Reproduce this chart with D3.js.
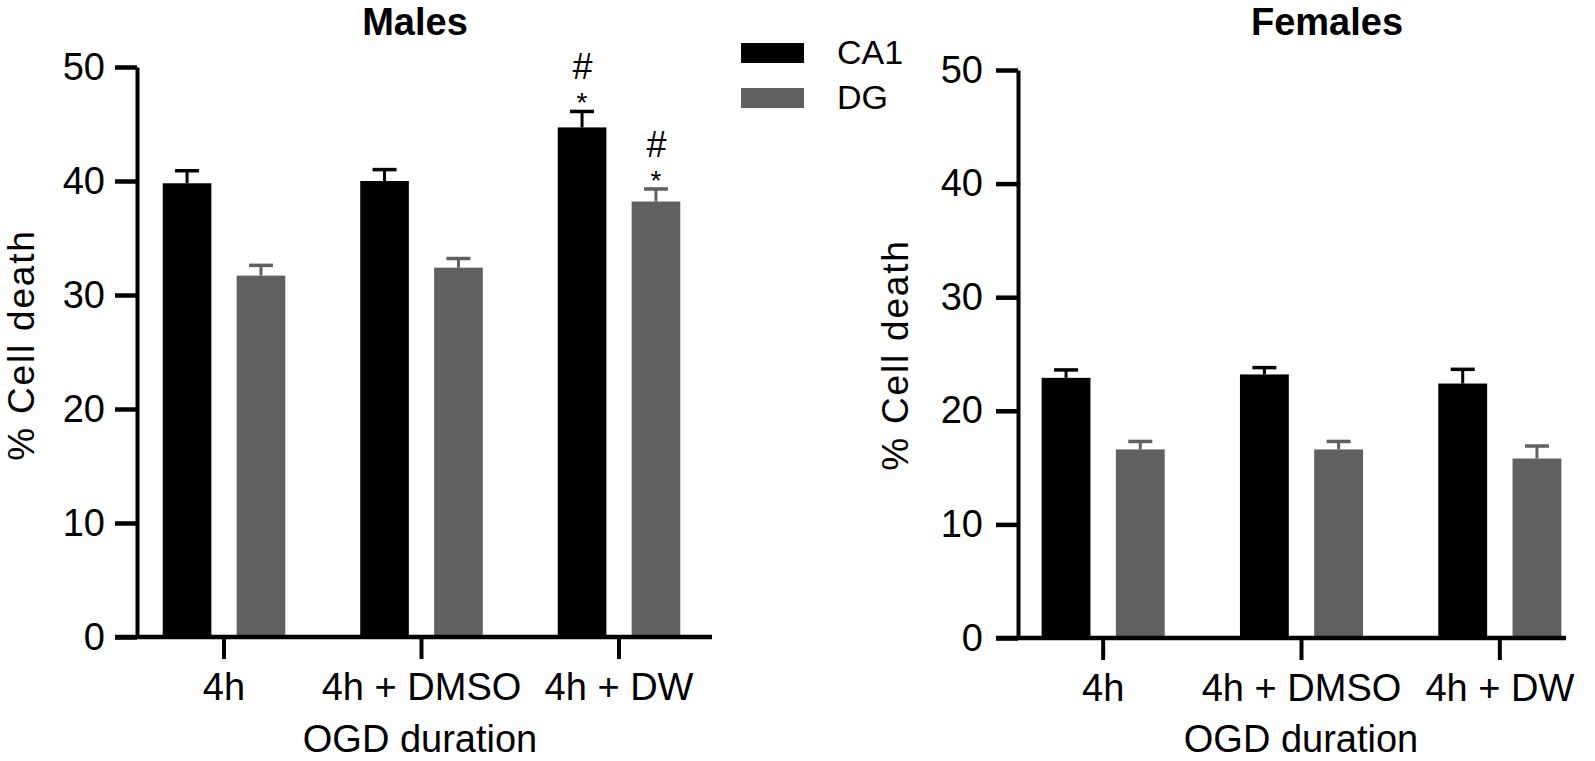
<!DOCTYPE html>
<html>
<head>
<meta charset="utf-8">
<script src="https://cdn.jsdelivr.net/npm/d3@7"></script>
<style>
  html, body { margin: 0; padding: 0; background: #fff; }
  svg { display: block; }
  text { font-family: "Liberation Sans", Arial, sans-serif; fill: #000; }
</style>
</head>
<body>
<svg id="chart" width="1595" height="761"></svg>
<script>
// ---- data ----
const categories = ["4h", "4h + DMSO", "4h + DW"];
const seriesNames = ["CA1", "DG"];
const yTickValues = [0, 10, 20, 30, 40, 50];

const malesCA1 = [39.8, 40.0, 44.7];
const malesCA1Err = [1.1, 1.0, 1.4];
const malesDG = [31.7, 32.4, 38.2];
const malesDGErr = [0.9, 0.8, 1.1];

const femalesCA1 = [22.9, 23.2, 22.4];
const femalesCA1Err = [0.7, 0.6, 1.25];
const femalesDG = [16.6, 16.6, 15.8];
const femalesDGErr = [0.7, 0.7, 1.1];

// significance marks: [category, series]
const malesMarks = [["4h + DW", "CA1"], ["4h + DW", "DG"]];
const femalesMarks = [];

const colors = { CA1: "#000000", DG: "#606060" };

// ---- drawing ----
const svg = d3.select("#chart");
const FONT = 38;

function buildRows(ca1, ca1e, dg, dge) {
  const rows = [];
  categories.forEach((c, i) => {
    rows.push({ cat: c, s: "CA1", v: ca1[i], e: ca1e[i] });
    rows.push({ cat: c, s: "DG", v: dg[i], e: dge[i] });
  });
  return rows;
}

function drawPanel(cfg) {
  const g = svg.append("g");
  const y = d3.scaleLinear().domain([0, 50]).range(cfg.yRange);
  const x0 = d3.scaleBand().domain(categories).range(cfg.xRange).paddingInner(0).paddingOuter(0);
  const x1 = d3.scaleBand().domain(seriesNames).range([0, x0.bandwidth()])
    .paddingInner(0.342).paddingOuter(0.507);

  const rows = buildRows(...cfg.data);

  // bars
  g.selectAll("rect.bar").data(rows).join("rect")
    .attr("class", "bar")
    .attr("x", d => x0(d.cat) + x1(d.s))
    .attr("width", x1.bandwidth())
    .attr("y", d => y(d.v))
    .attr("height", d => y(0) - y(d.v))
    .attr("fill", d => colors[d.s]);

  // error bars
  const eb = g.selectAll("g.err").data(rows).join("g").attr("class", "err");
  eb.append("line")
    .attr("x1", d => x0(d.cat) + x1(d.s) + x1.bandwidth() / 2)
    .attr("x2", d => x0(d.cat) + x1(d.s) + x1.bandwidth() / 2)
    .attr("y1", d => y(d.v))
    .attr("y2", d => y(d.v + d.e))
    .attr("stroke", d => colors[d.s]).attr("stroke-width", 3);
  eb.append("line")
    .attr("x1", d => x0(d.cat) + x1(d.s) + x1.bandwidth() / 2 - 12)
    .attr("x2", d => x0(d.cat) + x1(d.s) + x1.bandwidth() / 2 + 12)
    .attr("y1", d => y(d.v + d.e))
    .attr("y2", d => y(d.v + d.e))
    .attr("stroke", d => colors[d.s]).attr("stroke-width", 3.5);

  // significance marks
  cfg.marks.forEach(([cat, s]) => {
    const r = rows.find(d => d.cat === cat && d.s === s);
    const cx = x0(cat) + x1(s) + x1.bandwidth() / 2;
    const top = y(r.v + r.e);
    g.append("text").attr("x", cx).attr("y", top + 1).attr("text-anchor", "middle")
      .attr("font-size", 28).text("*");
    g.append("text").attr("x", cx).attr("y", top - 32).attr("text-anchor", "middle")
      .attr("font-size", 36).attr("font-style", "italic").text("#");
  });

  // y axis
  const yAxis = g.append("g")
    .attr("transform", `translate(${cfg.xRange[0] + cfg.yAxisOffset},0)`)
    .call(d3.axisLeft(y).tickValues(yTickValues).tickSize(22).tickSizeOuter(0).tickPadding(cfg.yTickPad));
  yAxis.selectAll("path.domain").attr("stroke-width", 4).attr("stroke", "#000");
  yAxis.selectAll(".tick line").attr("stroke-width", 4.5).attr("stroke", "#000");
  yAxis.selectAll(".tick text").attr("font-size", FONT)
    .attr("font-family", '"Liberation Sans", Arial, sans-serif').attr("fill", "#000");

  // x axis
  const axX = cfg.xRange[0] + cfg.yAxisOffset - 22;
  const xAxis = g.append("g")
    .attr("transform", `translate(0,${y(0)})`)
    .call(d3.axisBottom(x0).tickSize(22).tickSizeOuter(0));
  xAxis.select("path.domain").remove();
  xAxis.append("line").attr("x1", axX).attr("x2", cfg.xAxisEnd)
    .attr("y1", 0).attr("y2", 0).attr("stroke", "#000").attr("stroke-width", 4.5);
  xAxis.selectAll(".tick line").attr("stroke-width", 4).attr("stroke", "#000");
  xAxis.selectAll(".tick text").attr("font-size", FONT)
    .attr("font-family", '"Liberation Sans", Arial, sans-serif').attr("fill", "#000")
    .attr("y", 63).attr("dy", 0);

  // axis titles
  g.append("text").attr("x", cfg.xTitleX).attr("y", 752).attr("text-anchor", "middle")
    .attr("font-size", FONT).text("OGD duration");
  g.append("text")
    .attr("transform", `translate(${cfg.yTitleX},${cfg.yTitleY}) rotate(-90)`)
    .attr("text-anchor", "middle").attr("font-size", 37).attr("letter-spacing", 1.8)
    .text("% Cell death");

  // panel title
  g.append("text").attr("x", cfg.titleX).attr("y", 35).attr("text-anchor", "middle")
    .attr("font-size", 38).attr("font-weight", "bold").text(cfg.title);
}

drawPanel({
  title: "Males", titleX: 415,
  data: [malesCA1, malesCA1Err, malesDG, malesDGErr],
  marks: malesMarks,
  xRange: [125.25, 717.75], yRange: [637, 67],
  yAxisOffset: 11.75, yTickPad: 10, xAxisEnd: 712,
  xTitleX: 420, yTitleX: 34, yTitleY: 345
});

drawPanel({
  title: "Females", titleX: 1327,
  data: [femalesCA1, femalesCA1Err, femalesDG, femalesDGErr],
  marks: femalesMarks,
  xRange: [1004, 1599], yRange: [638, 70],
  yAxisOffset: 14, yTickPad: 13, xAxisEnd: 1566,
  xTitleX: 1301, yTitleX: 908, yTitleY: 355
});

// legend
const legend = svg.append("g").attr("transform", "translate(741,43)");
seriesNames.forEach((s, i) => {
  legend.append("rect").attr("x", 0).attr("y", i * 45).attr("width", 63).attr("height", 20)
    .attr("fill", colors[s]);
  legend.append("text").attr("x", 96).attr("y", i * 45 + 21).attr("font-size", 34).text(s);
});
</script>
</body>
</html>
